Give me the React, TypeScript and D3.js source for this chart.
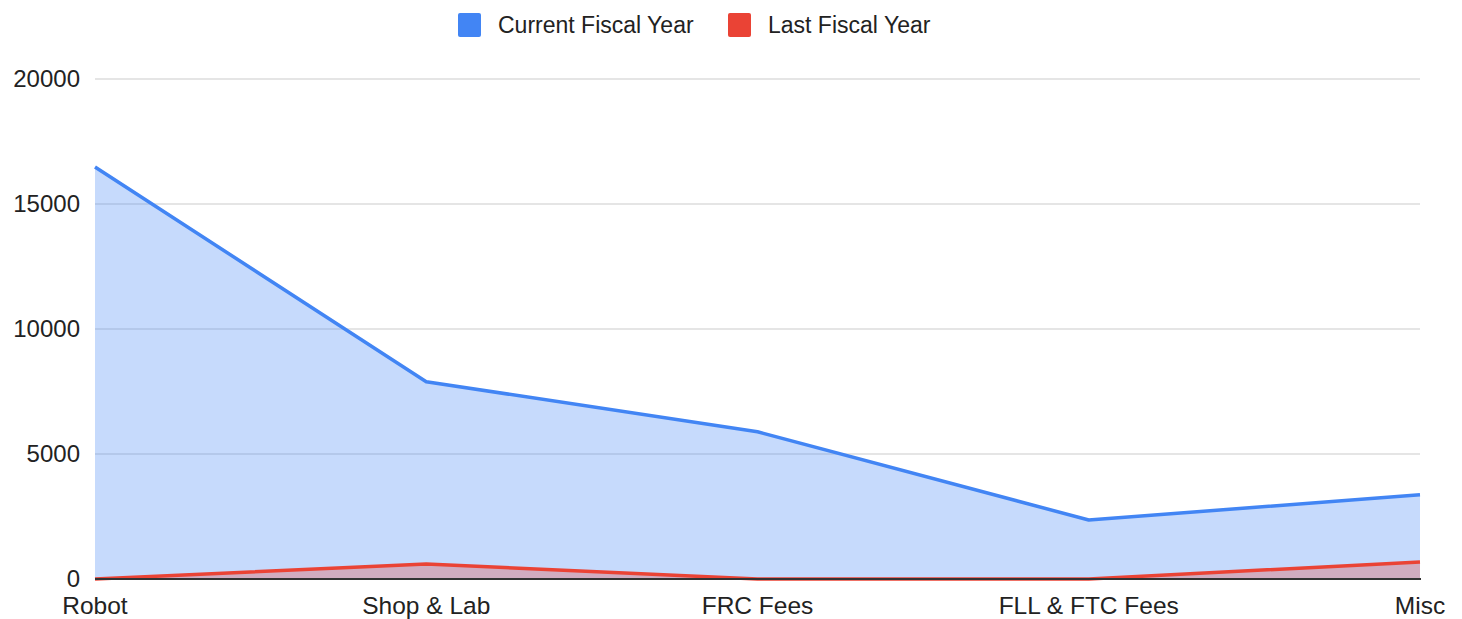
import * as React from "react"
import * as d3 from "d3"

const categories = ["Robot", "Shop & Lab", "FRC Fees", "FLL & FTC Fees", "Misc"]
const currentYear = [16480, 7890, 5890, 2360, 3370]
const lastYear = [0, 600, 0, 0, 680]
const yTicks = [0, 5000, 10000, 15000, 20000]
const seriesNames = ["Current Fiscal Year", "Last Fiscal Year"]
const seriesColors = ["#4285f4", "#ea4335"]

const W = 1462
const H = 619
const FONT = "'Liberation Sans', Arial, sans-serif"

export default function App() {
    const x = d3.scalePoint<string>().domain(categories).range([95, 1420])
    const y = d3.scaleLinear().domain([0, 20000]).range([579, 79])

    const series = [currentYear, lastYear]

    const area = (vals: number[]) =>
        d3.area<number>()
            .x((_, i) => x(categories[i])!)
            .y0(y(0))
            .y1(d => y(d))(vals) || ""
    const line = (vals: number[]) =>
        d3.line<number>()
            .x((_, i) => x(categories[i])!)
            .y(d => y(d))(vals) || ""

    // legend layout
    const legendX = [458, 728]

    return (
        <svg width={W} height={H} style={{ position: "absolute", left: 0, top: 0, background: "#fff" }}>
            {/* legend */}
            {seriesNames.map((name, i) => (
                <g key={name}>
                    <rect x={legendX[i]} y={13} width={23} height={24} rx={2} fill={seriesColors[i]} />
                    <text x={legendX[i] + 40} y={25} dy="0.35em" fontFamily={FONT} fontSize={23} fill="#222">{name}</text>
                </g>
            ))}

            {/* grid */}
            {yTicks.map(t => (
                <g key={t}>
                    {t !== 0 && <line x1={95} x2={1420} y1={y(t)} y2={y(t)} stroke="#cccccc" strokeWidth={1.2} />}
                    <text x={80} y={y(t)} dy="0.35em" textAnchor="end" fontFamily={FONT} fontSize={24} fill="#222">{t}</text>
                </g>
            ))}

            {/* areas */}
            {series.map((vals, i) => (
                <path key={"a" + i} d={area(vals)} fill={seriesColors[i]} fillOpacity={0.3} />
            ))}
            {series.map((vals, i) => (
                <path key={"l" + i} d={line(vals)} fill="none" stroke={seriesColors[i]} strokeWidth={3.5} strokeLinejoin="round" />
            ))}

            {/* baseline */}
            <line x1={95} x2={1421} y1={y(0)} y2={y(0)} stroke="#333" strokeWidth={2} />

            {/* x labels */}
            {categories.map(c => (
                <text key={c} x={x(c)} y={605} dy="0.35em" textAnchor="middle" fontFamily={FONT} fontSize={24.5} fill="#222">{c}</text>
            ))}
        </svg>
    )
}
